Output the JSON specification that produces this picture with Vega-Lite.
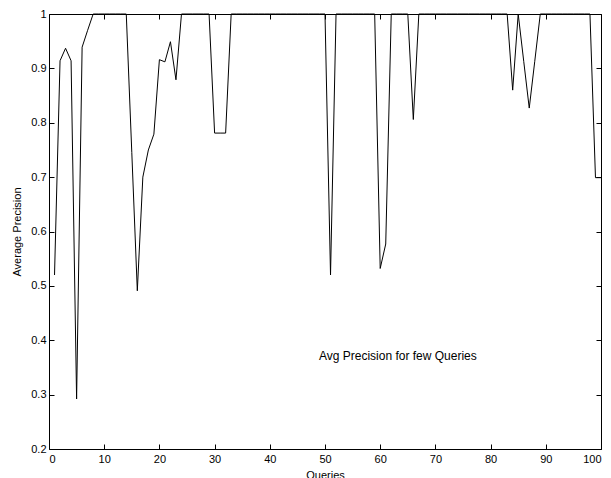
{
  "$schema": "https://vega.github.io/schema/vega-lite/v6.json",
  "width": 552,
  "height": 435,
  "autosize": {"type": "none"},
  "padding": {"left": 49, "top": 14, "right": 10, "bottom": 29},
  "background": "white",
  "config": {
    "font": "Liberation Sans",
    "view": {"stroke": "black", "strokeWidth": 1},
    "axis": {
      "grid": false,
      "domain": false,
      "tickColor": "black",
      "tickSize": -5,
      "tickWidth": 1,
      "labelColor": "black",
      "labelFontSize": 11,
      "titleColor": "black",
      "titleFontSize": 11,
      "titleFontWeight": "normal"
    }
  },
  "data": {
    "values": [
      {"q": 1, "p": 0.52}, {"q": 2, "p": 0.914}, {"q": 3, "p": 0.937}, {"q": 4, "p": 0.914}, {"q": 5, "p": 0.292},
      {"q": 6, "p": 0.939}, {"q": 7, "p": 0.97}, {"q": 8, "p": 1}, {"q": 9, "p": 1}, {"q": 10, "p": 1},
      {"q": 11, "p": 1}, {"q": 12, "p": 1}, {"q": 13, "p": 1}, {"q": 14, "p": 1}, {"q": 15, "p": 0.745},
      {"q": 16, "p": 0.491}, {"q": 17, "p": 0.70}, {"q": 18, "p": 0.75}, {"q": 19, "p": 0.779}, {"q": 20, "p": 0.916},
      {"q": 21, "p": 0.912}, {"q": 22, "p": 0.949}, {"q": 23, "p": 0.879}, {"q": 24, "p": 1}, {"q": 25, "p": 1},
      {"q": 26, "p": 1}, {"q": 27, "p": 1}, {"q": 28, "p": 1}, {"q": 29, "p": 1}, {"q": 30, "p": 0.781},
      {"q": 31, "p": 0.781}, {"q": 32, "p": 0.781}, {"q": 33, "p": 1}, {"q": 34, "p": 1}, {"q": 35, "p": 1},
      {"q": 36, "p": 1}, {"q": 37, "p": 1}, {"q": 38, "p": 1}, {"q": 39, "p": 1}, {"q": 40, "p": 1},
      {"q": 41, "p": 1}, {"q": 42, "p": 1}, {"q": 43, "p": 1}, {"q": 44, "p": 1}, {"q": 45, "p": 1},
      {"q": 46, "p": 1}, {"q": 47, "p": 1}, {"q": 48, "p": 1}, {"q": 49, "p": 1}, {"q": 50, "p": 1},
      {"q": 51, "p": 0.52}, {"q": 52, "p": 1}, {"q": 53, "p": 1}, {"q": 54, "p": 1}, {"q": 55, "p": 1},
      {"q": 56, "p": 1}, {"q": 57, "p": 1}, {"q": 58, "p": 1}, {"q": 59, "p": 1}, {"q": 60, "p": 0.532},
      {"q": 61, "p": 0.577}, {"q": 62, "p": 1}, {"q": 63, "p": 1}, {"q": 64, "p": 1}, {"q": 65, "p": 1},
      {"q": 66, "p": 0.806}, {"q": 67, "p": 1}, {"q": 68, "p": 1}, {"q": 69, "p": 1}, {"q": 70, "p": 1},
      {"q": 71, "p": 1}, {"q": 72, "p": 1}, {"q": 73, "p": 1}, {"q": 74, "p": 1}, {"q": 75, "p": 1},
      {"q": 76, "p": 1}, {"q": 77, "p": 1}, {"q": 78, "p": 1}, {"q": 79, "p": 1}, {"q": 80, "p": 1},
      {"q": 81, "p": 1}, {"q": 82, "p": 1}, {"q": 83, "p": 1}, {"q": 84, "p": 0.86}, {"q": 85, "p": 1},
      {"q": 86, "p": 0.913}, {"q": 87, "p": 0.827}, {"q": 88, "p": 0.913}, {"q": 89, "p": 1}, {"q": 90, "p": 1},
      {"q": 91, "p": 1}, {"q": 92, "p": 1}, {"q": 93, "p": 1}, {"q": 94, "p": 1}, {"q": 95, "p": 1},
      {"q": 96, "p": 1}, {"q": 97, "p": 1}, {"q": 98, "p": 1}, {"q": 99, "p": 0.699}, {"q": 100, "p": 0.699}
    ]
  },
  "layer": [
    {
      "mark": {"type": "line", "color": "black", "strokeWidth": 1},
      "encoding": {
        "x": {"field": "q", "type": "quantitative", "scale": {"domain": [0, 100], "nice": false, "zero": false},
              "axis": {"orient": "bottom", "values": [0,10,20,30,40,50,60,70,80,90,100], "title": "Queries", "labelPadding": 9, "titlePadding": 5}},
        "y": {"field": "p", "type": "quantitative", "scale": {"domain": [0.2, 1], "nice": false, "zero": false},
              "axis": {"orient": "left", "values": [0.2,0.3,0.4,0.5,0.6,0.7,0.8,0.9,1], "format": ".1~f", "title": "Average Precision", "labelPadding": 8, "titlePadding": 8}}
      }
    },
    {
      "mark": {"type": "line", "opacity": 0},
      "encoding": {
        "x": {"field": "q", "type": "quantitative", "scale": {"domain": [0, 100], "nice": false, "zero": false},
              "axis": {"orient": "top", "values": [0,10,20,30,40,50,60,70,80,90,100], "labels": false, "title": null}},
        "y": {"field": "p", "type": "quantitative", "scale": {"domain": [0.2, 1], "nice": false, "zero": false},
              "axis": {"orient": "right", "values": [0.2,0.3,0.4,0.5,0.6,0.7,0.8,0.9,1], "labels": false, "title": null}}
      }
    },
    {
      "data": {"values": [{"q": 48.9, "p": 0.371, "label": "Avg Precision for few Queries"}]},
      "mark": {"type": "text", "align": "left", "baseline": "middle", "fontSize": 12, "color": "black"},
      "encoding": {
        "x": {"field": "q", "type": "quantitative", "axis": null},
        "y": {"field": "p", "type": "quantitative", "axis": null},
        "text": {"field": "label"}
      }
    }
  ],
  "resolve": {"axis": {"x": "independent", "y": "independent"}}
}
